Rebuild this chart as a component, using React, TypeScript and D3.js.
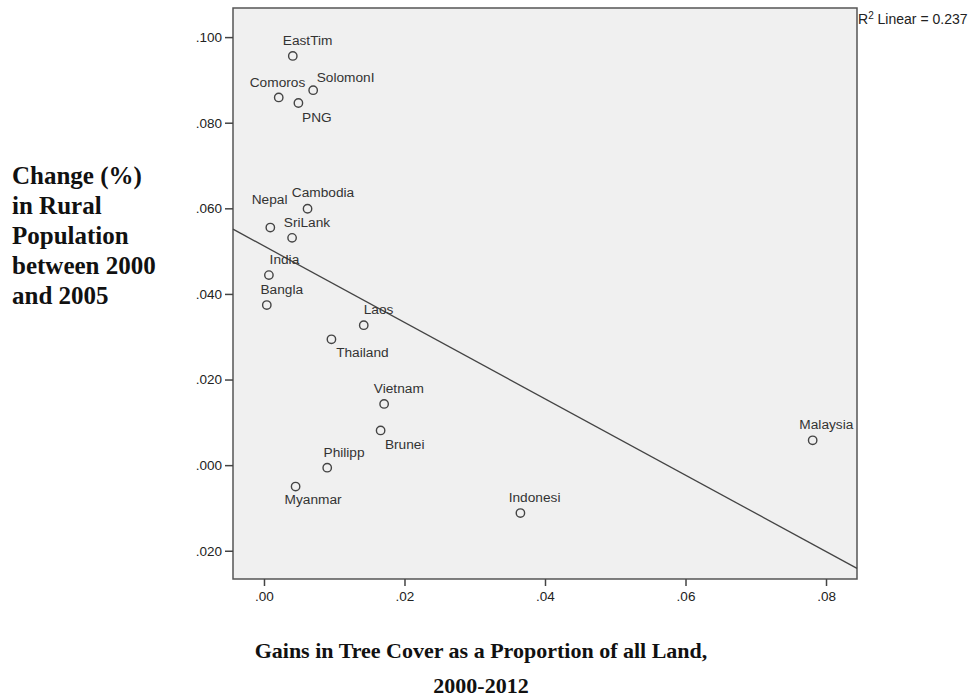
import * as d3 from "d3";
import { useEffect, useRef } from "react";

// values
const countries = ["EastTim", "Comoros", "SolomonI", "PNG", "Cambodia", "Nepal", "SriLank", "India", "Bangla", "Laos", "Thailand", "Vietnam", "Brunei", "Philipp", "Myanmar", "Indonesi", "Malaysia"];
const treeGain = [0.0041, 0.0021, 0.007, 0.0049, 0.0062, 0.0009, 0.004, 0.0007, 0.0004, 0.0142, 0.0096, 0.0171, 0.0166, 0.009, 0.0045, 0.0365, 0.0781];
const ruralChange = [0.0956, 0.0859, 0.0876, 0.0846, 0.0599, 0.0555, 0.0531, 0.0444, 0.0374, 0.0327, 0.0294, 0.0143, 0.0081, -0.0006, -0.005, -0.0112, 0.0058];

const xTicks = [0, 0.02, 0.04, 0.06, 0.08];
const xTickLabels = [".00", ".02", ".04", ".06", ".08"];
const yTicks = [0.1, 0.08, 0.06, 0.04, 0.02, 0, -0.02];
const yTickLabels = [".100", ".080", ".060", ".040", ".020", ".000", ".020"];

const xDomain = [-0.00441, 0.08441];
const yDomain = [-0.0266, 0.1068];

// fitted line
const fitIntercept = 0.05119;
const fitSlope = -0.8921;
const r2Text = "Linear = 0.237";

// label placement relative to each marker (dx to text start, dy to baseline)
const labelOffsets: Record<string, [number, number]> = {
  EastTim: [-10, -11],
  Comoros: [-29, -10],
  SolomonI: [3.5, -8.5],
  PNG: [3.7, 18.7],
  Cambodia: [-15.7, -11.4],
  Nepal: [-18.6, -23.7],
  SriLank: [-8.3, -11],
  India: [0.7, -11],
  Bangla: [-6.3, -10.7],
  Laos: [0, -10.7],
  Thailand: [4.7, 17.4],
  Vietnam: [-10.3, -11.3],
  Brunei: [4.3, 18.3],
  Philipp: [-3.7, -10.7],
  Myanmar: [-11, 17.3],
  Indonesi: [-11.7, -11],
  Malaysia: [-13.3, -11],
};

const yTitleLines = ["Change (%)", "in Rural", "Population", "between 2000", "and 2005"];
const xTitleLines = ["Gains in Tree Cover as a Proportion of all Land,", "2000-2012"];

export default function App() {
  const ref = useRef<SVGSVGElement | null>(null);

  useEffect(() => {
    if (!ref.current) return;
    document.body.style.margin = "0";

    const frame = { left: 233, right: 857, top: 8, bottom: 579 };
    const x = d3.scaleLinear().domain(xDomain).range([frame.left, frame.right]);
    const y = d3.scaleLinear().domain(yDomain).range([frame.bottom, frame.top]);

    const sans = "'Liberation Sans', Arial, sans-serif";
    const serif = "'Liberation Serif', 'Times New Roman', serif";
    const ink = "#333";

    const svg = d3.select(ref.current);
    svg.selectAll("*").remove();

    svg.append("rect").attr("width", 972).attr("height", 700).attr("fill", "#fff");

    svg
      .append("rect")
      .attr("x", frame.left)
      .attr("y", frame.top)
      .attr("width", frame.right - frame.left)
      .attr("height", frame.bottom - frame.top)
      .attr("fill", "#f0f0f0")
      .attr("stroke", "#555")
      .attr("stroke-width", 1.5);

    // y axis
    const yAxis = svg
      .append("g")
      .attr("transform", `translate(${frame.left},0)`)
      .call(
        d3
          .axisLeft(y)
          .tickValues(yTicks)
          .tickSize(8)
          .tickPadding(3)
          .tickFormat((_, i) => yTickLabels[i])
      );
    yAxis.select(".domain").remove();
    yAxis.selectAll(".tick line").attr("stroke", "#444").attr("stroke-width", 1.5);
    yAxis.selectAll("text").attr("fill", "#222").style("font-family", sans).style("font-size", "13.5px");

    // x axis
    const xAxis = svg
      .append("g")
      .attr("transform", `translate(0,${frame.bottom})`)
      .call(
        d3
          .axisBottom(x)
          .tickValues(xTicks)
          .tickSize(7)
          .tickPadding(5)
          .tickFormat((_, i) => xTickLabels[i])
      );
    xAxis.select(".domain").remove();
    xAxis.selectAll(".tick line").attr("stroke", "#444").attr("stroke-width", 1.5);
    xAxis.selectAll("text").attr("fill", "#222").style("font-family", sans).style("font-size", "13.5px");

    // fit line across the frame
    svg
      .append("line")
      .attr("x1", x(xDomain[0]))
      .attr("y1", y(fitIntercept + fitSlope * xDomain[0]))
      .attr("x2", x(xDomain[1]))
      .attr("y2", y(fitIntercept + fitSlope * xDomain[1]))
      .attr("stroke", "#444")
      .attr("stroke-width", 1.3);

    const pts = countries.map((c, i) => ({ name: c, gx: treeGain[i], ry: ruralChange[i] }));

    svg
      .append("g")
      .selectAll("circle")
      .data(pts)
      .join("circle")
      .attr("cx", (d) => x(d.gx))
      .attr("cy", (d) => y(d.ry))
      .attr("r", 4.2)
      .attr("fill", "none")
      .attr("stroke", "#444")
      .attr("stroke-width", 1.4);

    svg
      .append("g")
      .selectAll("text")
      .data(pts)
      .join("text")
      .attr("x", (d) => x(d.gx) + labelOffsets[d.name][0])
      .attr("y", (d) => y(d.ry) + labelOffsets[d.name][1])
      .text((d) => d.name)
      .attr("fill", ink)
      .style("font-family", sans)
      .style("font-size", "13.7px");

    // R² annotation
    const r2 = svg
      .append("text")
      .attr("x", frame.right + 1)
      .attr("y", 24)
      .attr("fill", "#222")
      .style("font-family", sans)
      .style("font-size", "14px");
    r2.append("tspan").text("R");
    r2.append("tspan").attr("dy", -5).style("font-size", "10px").text("2");
    r2.append("tspan").attr("dy", 5).text(" " + r2Text);

    // axis titles
    svg
      .append("g")
      .selectAll("text")
      .data(yTitleLines)
      .join("text")
      .attr("x", 12)
      .attr("y", (_, i) => 184 + i * 30)
      .text((d) => d)
      .attr("fill", "#111")
      .style("font-family", serif)
      .style("font-weight", "bold")
      .style("font-size", "25px");

    svg
      .append("g")
      .selectAll("text")
      .data(xTitleLines)
      .join("text")
      .attr("x", 481)
      .attr("y", (_, i) => 658 + i * 35)
      .attr("text-anchor", "middle")
      .text((d) => d)
      .attr("fill", "#111")
      .style("font-family", serif)
      .style("font-weight", "bold")
      .style("font-size", "22px");
  }, []);

  return (
    <div style={{ position: "absolute", left: 0, top: 0 }}>
      <svg ref={ref} width={972} height={700} style={{ display: "block" }} role="img" aria-label="Tree cover gains vs rural population change" />
    </div>
  );
}
